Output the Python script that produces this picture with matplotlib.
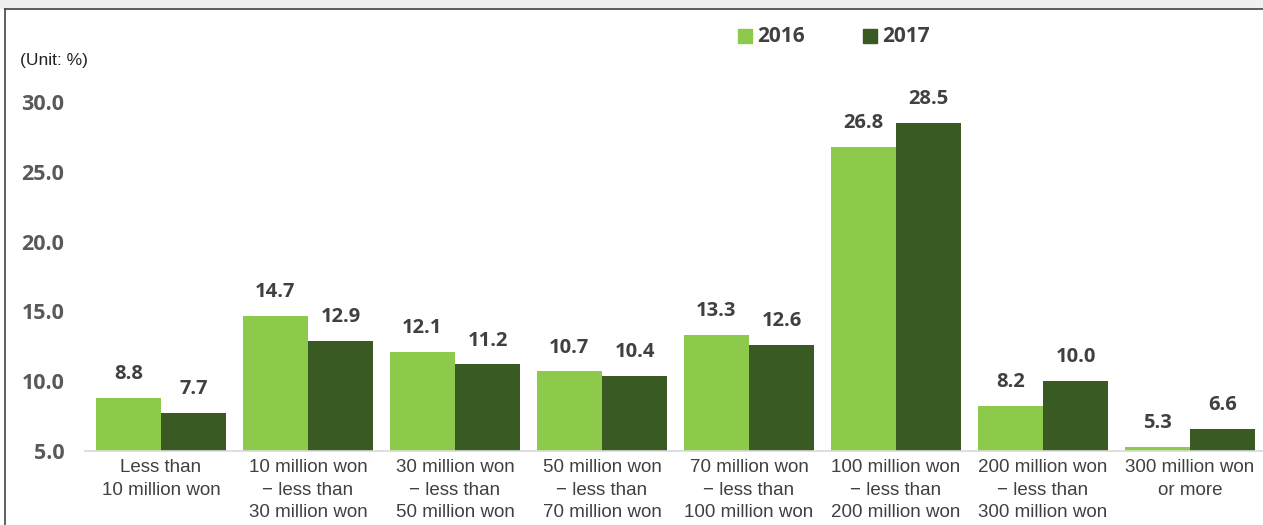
import numpy as np
import matplotlib.pyplot as plt
from matplotlib.lines import Line2D

categories = [
    "Less than\n10 million won",
    "10 million won\n\u2212 less than\n30 million won",
    "30 million won\n\u2212 less than\n50 million won",
    "50 million won\n\u2212 less than\n70 million won",
    "70 million won\n\u2212 less than\n100 million won",
    "100 million won\n\u2212 less than\n200 million won",
    "200 million won\n\u2212 less than\n300 million won",
    "300 million won\nor more",
]
values_2016 = [8.8, 14.7, 12.1, 10.7, 13.3, 26.8, 8.2, 5.3]
values_2017 = [7.7, 12.9, 11.2, 10.4, 12.6, 28.5, 10.0, 6.6]
series_labels = ["2016", "2017"]
yticks = [5.0, 10.0, 15.0, 20.0, 25.0, 30.0]

light = "#8dca4b"
dark = "#3a5a24"
txt = "#404040"

label_font = "Liberation Sans"
bold_font = "Open Sans"

W, H = 1263, 525
fig = plt.figure(figsize=(W / 100, H / 100), dpi=100)
ax = fig.add_axes([85 / W, 74 / H, (1262 - 85) / W, (451 - 88) / H])

x = np.arange(len(categories))
bw = 0.445
b1 = ax.bar(x - bw / 2, np.array(values_2016) - 5, bw, bottom=5, color=light, label=series_labels[0])
b2 = ax.bar(x + bw / 2, np.array(values_2017) - 5, bw, bottom=5, color=dark, label=series_labels[1])

for bars, vals in ((b1, values_2016), (b2, values_2017)):
    for rect, v in zip(bars, vals):
        ax.annotate(f"{v:.1f}", (rect.get_x() + rect.get_width() / 2, v),
                    xytext=(0, 10), textcoords="offset points", ha="center", va="bottom",
                    fontsize=14.5, fontweight="bold", color=txt, family=bold_font)

ax.set_xlim(-0.517, 7.49)
ax.set_ylim(5, 31)
ax.set_yticks(yticks)
ax.set_yticklabels([f"{t:.1f}" for t in yticks], fontsize=15.5, fontweight="bold",
                   color="#595959", family=bold_font)
ax.set_xticks(x)
ax.set_xticklabels(categories, fontsize=13.5, color="#404040", family=label_font, linespacing=1.42)
ax.tick_params(axis="y", length=0, pad=15)
ax.tick_params(axis="x", length=0, pad=6)

for side in ("top", "right", "left"):
    ax.spines[side].set_visible(False)
ax.spines["bottom"].set_color("#d9d9d9")
ax.spines["bottom"].set_linewidth(1.2)

fig.text(20 / W, 1 - 61 / H, "(Unit: %)", fontsize=12.5, color="#222222",
         family=label_font, va="center", ha="left")

# legend drawn by hand at the top
for px, lab, col in ((738, series_labels[0], light), (863, series_labels[1], dark)):
    fig.patches.append(plt.Rectangle((px / W, 1 - 43 / H), 14 / W, 14 / H,
                                     transform=fig.transFigure, color=col))
    fig.text((px + 19) / W, 1 - 36 / H, lab, fontsize=15, fontweight="bold",
             color=txt, family=bold_font, va="center", ha="left")

# frame lines
fig.patches.append(plt.Rectangle((0, 1 - 8 / H), 1, 8 / H, transform=fig.transFigure,
                                 color="#f0f0f0"))
fig.add_artist(Line2D([5 / W, 1], [1 - 9 / H, 1 - 9 / H], color="#444444", lw=1.2))
fig.add_artist(Line2D([5 / W, 5 / W], [0, 1 - 9 / H], color="#444444", lw=1.2))

fig.savefig("out.png", dpi=100)
